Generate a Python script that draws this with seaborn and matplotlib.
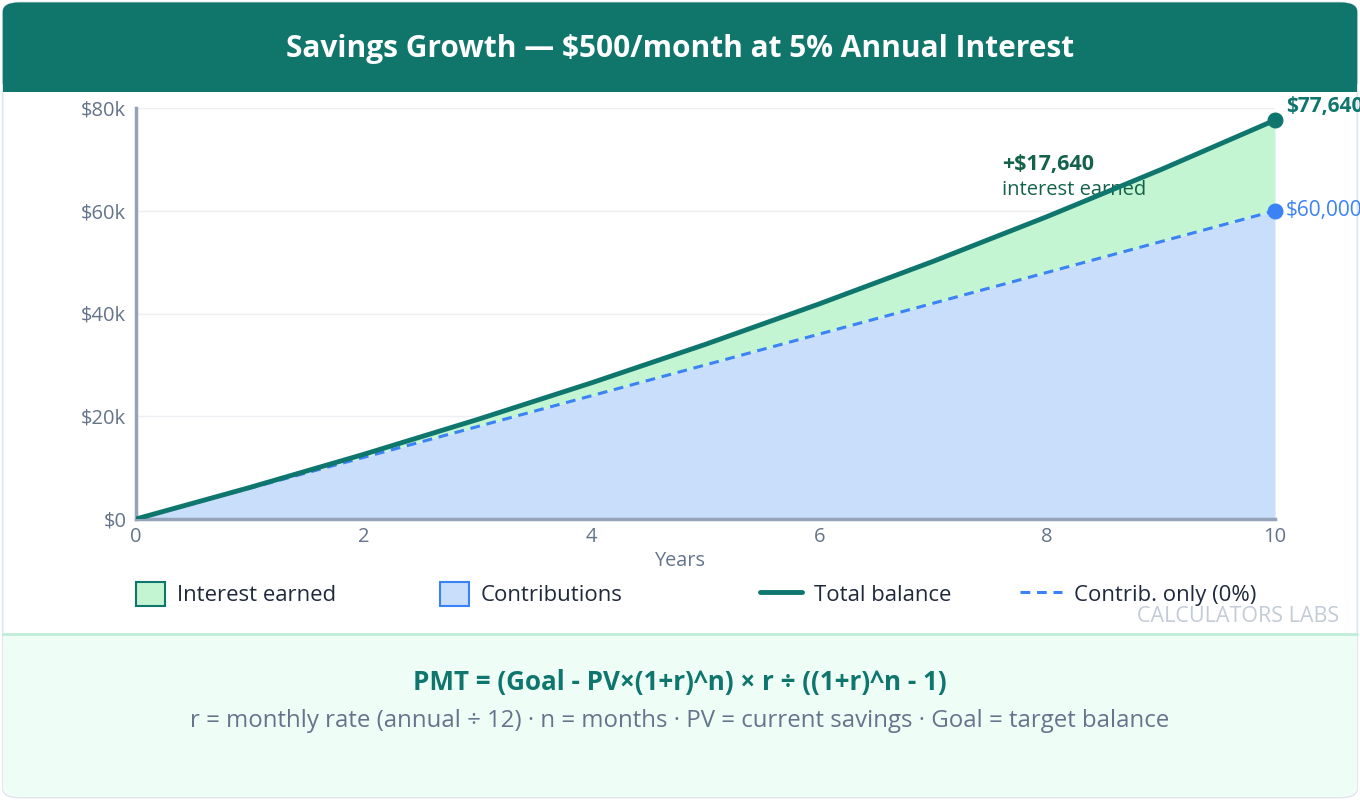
import matplotlib
matplotlib.use("Agg")
import matplotlib.pyplot as plt
import seaborn as sns
import pandas as pd
from matplotlib.patches import FancyBboxPatch, Rectangle, Patch
from matplotlib.lines import Line2D

# ---- data ----
years = [0, 1, 2, 3, 4, 5, 6, 7, 8, 9, 10]
total_balance = [0, 6140, 12590, 19380, 26510, 34000, 41880, 50160, 58870, 68020, 77640]
contributions = [0, 6000, 12000, 18000, 24000, 30000, 36000, 42000, 48000, 54000, 60000]
y_ticks = [0, 20000, 40000, 60000, 80000]
y_tick_labels = ["$0", "$20k", "$40k", "$60k", "$80k"]
x_ticks = [0, 2, 4, 6, 8, 10]
title = "Savings Growth — $500/month at 5% Annual Interest"
interest_label = "+$17,640"
total_label = "$77,640"
contrib_label = "$60,000"
legend_labels = ["Interest earned", "Contributions", "Total balance", "Contrib. only (0%)"]

TEAL = "#0f766e"
BLUE = "#3b82f6"
GREEN_FILL = "#c3f5d3"
BLUE_FILL = "#c9defb"
GREY = "#64748b"
SPINE = "#94a3b8"

sns.set_theme(style="white")
plt.rcParams["font.family"] = ["Open Sans", "DejaVu Sans"]

df = pd.DataFrame({"year": years, "total": total_balance, "contrib": contributions})

fig = plt.figure(figsize=(13.6, 8), dpi=100)
fig.patch.set_facecolor("white")

# card border
fig.add_artist(FancyBboxPatch((0.002, 0.003), 0.996, 0.994, boxstyle="round,pad=0,rounding_size=0.012",
                              transform=fig.transFigure, facecolor="white", edgecolor="#dfe5ec",
                              linewidth=1.2, zorder=0))
# title bar
fig.add_artist(FancyBboxPatch((0.002, 0.885), 0.996, 0.112, boxstyle="round,pad=0,rounding_size=0.012",
                              transform=fig.transFigure, facecolor="#10766c", edgecolor="none", zorder=1))
fig.add_artist(Rectangle((0.002, 0.885), 0.996, 0.04, transform=fig.transFigure,
                         facecolor="#10766c", edgecolor="none", zorder=1))
fig.text(0.5, 0.939, title, ha="center", va="center", color="white", fontsize=21.5,
         fontweight="bold", zorder=2)

# bottom formula panel
fig.add_artist(FancyBboxPatch((0.002, 0.004), 0.996, 0.203, boxstyle="round,pad=0,rounding_size=0.012",
                              transform=fig.transFigure, facecolor="#effdf7", edgecolor="none", zorder=1))
fig.add_artist(Rectangle((0.002, 0.17), 0.996, 0.037, transform=fig.transFigure,
                         facecolor="#effdf7", edgecolor="none", zorder=1))
fig.add_artist(Line2D([0.002, 0.998], [0.2075, 0.2075], transform=fig.transFigure,
                      color="#bdeed8", linewidth=2, zorder=2))
fig.text(0.5, 0.147, "PMT = (Goal - PV×(1+r)^n) × r ÷ ((1+r)^n - 1)", ha="center", va="center",
         color=TEAL, fontsize=18.7, fontweight="bold", zorder=3)
fig.text(0.5, 0.099, "r = monthly rate (annual ÷ 12) · n = months · PV = current savings · Goal = target balance",
         ha="center", va="center", color=GREY, fontsize=17.3, zorder=3)

# main axes
ax = fig.add_axes([0.1, 0.35125, 0.8375, 0.51375])
ax.set_zorder(3)
ax.patch.set_alpha(0)

ax.fill_between(df["year"], 0, df["contrib"], color=BLUE_FILL, linewidth=0, zorder=1)
ax.fill_between(df["year"], df["contrib"], df["total"], color=GREEN_FILL, linewidth=0, zorder=1)
sns.lineplot(data=df, x="year", y="total", ax=ax, color=TEAL, linewidth=3.5, zorder=4)
sns.lineplot(data=df, x="year", y="contrib", ax=ax, color=BLUE, linewidth=2.2, zorder=3,
             linestyle=(0, (3.2, 2.2)))

ax.plot([years[-1]], [total_balance[-1]], "o", color=TEAL, markersize=10.5, zorder=5, clip_on=False)
ax.plot([years[-1]], [contributions[-1]], "o", color=BLUE, markersize=10.5, zorder=5, clip_on=False)
ax.annotate(total_label, (years[-1], total_balance[-1]), xytext=(8, 10), textcoords="offset points",
            color=TEAL, fontsize=15, fontweight="bold", va="center", ha="left", annotation_clip=False)
ax.annotate(contrib_label, (years[-1], contributions[-1]), xytext=(8, 0), textcoords="offset points",
            color=BLUE, fontsize=15, va="center", ha="left", annotation_clip=False)
ax.text(7.6, 69000, interest_label, color="#14624a", fontsize=15.5, fontweight="bold", ha="left", va="center")
ax.text(7.6, 64000, "interest earned", color="#14624a", fontsize=14.5, ha="left", va="center")

ax.set_xlim(0, 10)
ax.set_ylim(0, 80000)
ax.set_xticks(x_ticks)
ax.set_yticks(y_ticks)
ax.set_yticklabels(y_tick_labels)
ax.tick_params(axis="both", colors=GREY, labelsize=14.5, length=0, pad=7)
ax.tick_params(axis="x", pad=6)
ax.set_xlabel("")
ax.set_ylabel("")
for y in y_ticks[1:]:
    ax.axhline(y, color="#eceff3", linewidth=1, zorder=0)
for s in ["top", "right"]:
    ax.spines[s].set_visible(False)
for s in ["left", "bottom"]:
    ax.spines[s].set_color(SPINE)
    ax.spines[s].set_linewidth(2.5)

fig.text(0.5, 1 - 561 / 800, "Years", ha="center", va="center", color=GREY, fontsize=14.3)

# legend: one entry per slot, placed like the reference
handles = [
    Patch(facecolor=GREEN_FILL, edgecolor=TEAL, linewidth=1.5, label=legend_labels[0]),
    Patch(facecolor=BLUE_FILL, edgecolor=BLUE, linewidth=1.5, label=legend_labels[1]),
    Line2D([0], [0], color=TEAL, linewidth=3.5, label=legend_labels[2]),
    Line2D([0], [0], color=BLUE, linewidth=2.2, linestyle=(0, (3.2, 2.2)), label=legend_labels[3]),
]
x_slots = [136, 440, 760, 1020]
h_lengths = [1.3, 1.3, 1.9, 1.9]
for h, xs, hl in zip(handles, x_slots, h_lengths):
    lg = fig.legend(handles=[h], loc="center left", bbox_to_anchor=(xs / 1360, 1 - 594 / 800),
                    frameon=False, fontsize=15.9, handlelength=hl, handleheight=1.3,
                    handletextpad=0.55, borderpad=0, borderaxespad=0)
    for t in lg.get_texts():
        t.set_color("#1e293b")

fig.text(0.985, 0.229, "CALCULATORS LABS", ha="right", va="center", color="#c2cbd6", fontsize=15.5)

fig.savefig("out.png", dpi=100)
